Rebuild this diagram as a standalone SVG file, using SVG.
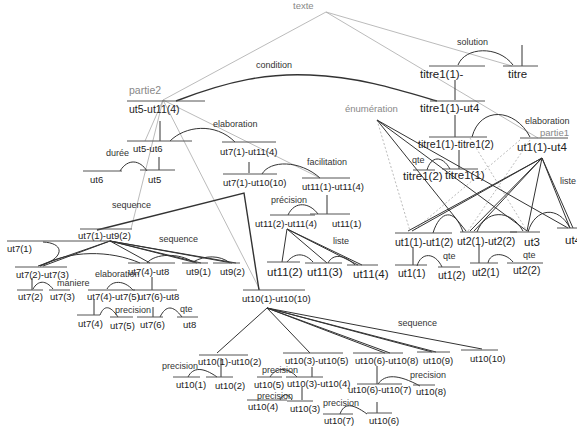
<svg xmlns="http://www.w3.org/2000/svg" width="577" height="432" viewBox="0 0 577 432">
<style>
text{font-family:"Liberation Sans",Arial,sans-serif;fill:#222}
.s{font-size:9.5px}.m{font-size:10.5px}.l{font-size:11.5px}
.g{fill:#888}
.r{font-size:9px;fill:#333}
.sp{stroke:#555;stroke-width:1}
.dk{stroke:#333;stroke-width:1;fill:none}
.th{stroke:#333;stroke-width:1.4;fill:none}
.gr{stroke:#aaa;stroke-width:0.8;fill:none}
.gd{stroke:#aaa;stroke-width:0.8;fill:none;stroke-dasharray:2 2}
.v{stroke:#333;stroke-width:1}
</style>
<rect width="577" height="432" fill="#fff"/>
<g id="connectors">
<line class="gr" x1="326" y1="12" x2="163" y2="100"/>
<line class="gr" x1="326" y1="12" x2="512" y2="66"/>
<line class="gr" x1="326" y1="12" x2="538" y2="138"/>
<line class="gr" x1="163" y1="100" x2="145" y2="141"/>
<line class="gr" x1="163" y1="100" x2="131" y2="229"/>
<line class="gr" x1="163" y1="100" x2="260" y2="290"/>
<line class="gr" x1="163" y1="100" x2="320" y2="178"/>
<line class="gd" x1="377" y1="120" x2="410" y2="231"/>
<line class="gd" x1="530" y1="140" x2="468" y2="231"/>
<line class="gd" x1="520" y1="140" x2="413" y2="231"/>
<line class="gd" x1="470" y1="138" x2="527" y2="231"/>
<line class="dk" x1="377" y1="120" x2="466" y2="231"/>
<line class="dk" x1="377" y1="120" x2="527" y2="231"/>
<line class="dk" x1="377" y1="120" x2="568" y2="228"/>
<line class="dk" x1="542" y1="158" x2="408" y2="231"/>
<line class="dk" x1="542" y1="158" x2="412" y2="231"/>
<line class="dk" x1="542" y1="158" x2="470" y2="231"/>
<line class="dk" x1="542" y1="158" x2="474" y2="231"/>
<line class="dk" x1="542" y1="158" x2="527" y2="231"/>
<line class="dk" x1="542" y1="158" x2="570" y2="228"/>
<line class="dk" x1="542" y1="158" x2="573" y2="228"/>
<path class="dk" d="M458,65 C465,47 498,45 513,65"/>
<path class="dk" d="M472,137 C480,106 515,108 530,137"/>
<path class="dk" d="M427,170 C431,156 442,155 450,169"/>
<path class="dk" d="M433,233 C440,210 455,208 463,232"/>
<path class="dk" d="M477,232 C485,210 510,208 523,231"/>
<path class="dk" d="M528,232 C535,208 558,205 570,228"/>
<path class="dk" d="M417,266 C421,252 435,252 442,267"/>
<path class="dk" d="M488,263 C490,252 505,252 513,262"/>
<path class="th" d="M176,101 C230,80 270,73 310,75 C360,77 400,90 437,101"/>
<path class="dk" d="M170,141 C185,126 215,122 235,142"/>
<path class="dk" d="M120,171 C128,158 140,160 147,171"/>
<path class="dk" d="M262,174 C270,160 300,160 320,178"/>
<path class="dk" d="M288,215 C295,200 310,203 318,214"/>
<line class="dk" x1="287" y1="229" x2="282" y2="262"/>
<line class="dk" x1="287" y1="229" x2="327" y2="263"/>
<line class="dk" x1="287" y1="229" x2="358" y2="265"/>
<line class="dk" x1="287" y1="229" x2="362" y2="265"/>
<path class="dk" d="M287,262 C295,252 305,253 313,262"/>
<path class="dk" d="M328,263 C333,253 345,255 355,265"/>
<polyline class="th" points="97,230 244,193 259,290"/>
<path class="dk" d="M43,242 C65,243 65,258 40,266"/>
<line class="dk" x1="110" y1="241" x2="38" y2="266"/>
<line class="dk" x1="110" y1="241" x2="43" y2="266"/>
<line class="dk" x1="110" y1="241" x2="150" y2="263"/>
<line class="dk" x1="110" y1="241" x2="197" y2="263"/>
<line class="dk" x1="110" y1="241" x2="201" y2="263"/>
<line class="dk" x1="110" y1="241" x2="232" y2="263"/>
<line class="dk" x1="110" y1="241" x2="236" y2="263"/>
<path class="dk" d="M40,266 C70,250 110,250 140,263"/>
<path class="dk" d="M147,263 C155,253 180,253 193,262"/>
<path class="dk" d="M193,262 C205,255 220,255 230,263"/>
<path class="dk" d="M33,289 C38,280 46,280 53,289"/>
<path class="dk" d="M107,289 C112,280 124,280 133,290"/>
<path class="dk" d="M100,315 C104,305 110,305 118,317"/>
<path class="dk" d="M160,317 C166,305 173,305 182,317"/>
<line class="dk" x1="267" y1="308" x2="217" y2="353"/>
<line class="dk" x1="267" y1="308" x2="310" y2="353"/>
<line class="dk" x1="267" y1="308" x2="385" y2="353"/>
<line class="dk" x1="267" y1="308" x2="390" y2="353"/>
<line class="dk" x1="267" y1="308" x2="432" y2="352"/>
<line class="dk" x1="267" y1="308" x2="436" y2="352"/>
<line class="dk" x1="267" y1="308" x2="482" y2="349"/>
<path class="dk" d="M188,377 C193,367 203,367 217,377"/>
<path class="dk" d="M270,377 C276,367 288,367 297,377"/>
<path class="dk" d="M280,400 C283,393 288,393 292,400"/>
<path class="dk" d="M378,384 C385,374 398,374 420,386"/>
<path class="dk" d="M340,414 C344,403 352,403 367,414"/>
<line class="v" x1="522" y1="45" x2="522" y2="66"/>
<line class="v" x1="455" y1="80" x2="455" y2="100"/>
<line class="v" x1="455" y1="115" x2="455" y2="137"/>
<line class="v" x1="459" y1="150" x2="459" y2="169"/>
<line class="v" x1="160" y1="121" x2="160" y2="141"/>
<line class="v" x1="159" y1="157" x2="159" y2="170"/>
<line class="v" x1="249" y1="162" x2="249" y2="173"/>
<line class="v" x1="327" y1="195" x2="327" y2="214"/>
<line class="v" x1="413" y1="247" x2="413" y2="265"/>
<line class="v" x1="479" y1="245" x2="479" y2="263"/>
<line class="v" x1="32" y1="278" x2="32" y2="290"/>
<line class="v" x1="152" y1="277" x2="152" y2="290"/>
<line class="v" x1="94" y1="300" x2="94" y2="315"/>
<line class="v" x1="153" y1="307" x2="153" y2="317"/>
<line class="v" x1="221" y1="358" x2="221" y2="377"/>
<line class="v" x1="312" y1="367" x2="312" y2="377"/>
<line class="v" x1="302" y1="387" x2="302" y2="400"/>
<line class="v" x1="377" y1="366" x2="377" y2="384"/>
<line class="v" x1="377" y1="402" x2="377" y2="413"/>
<text class="r" x="457" y="45">solution</text>
<text class="r" x="525" y="124">elaboration</text>
<text class="s g" x="345" y="112">énumération</text>
<text class="r" x="412" y="163">qte</text>
<text class="r" x="560" y="184">liste</text>
<text class="r" x="443" y="259">qte</text>
<text class="r" x="523" y="258">qte</text>
<text class="r" x="256" y="68">condition</text>
<text class="r" x="213" y="127">elaboration</text>
<text class="r" x="106" y="156">durée</text>
<text class="r" x="307" y="165">facilitation</text>
<text class="r" x="271" y="203">précision</text>
<text class="r" x="333" y="244">liste</text>
<text class="r" x="112" y="208">sequence</text>
<text class="r" x="159" y="242">sequence</text>
<text class="r" x="57" y="286">maniere</text>
<text class="r" x="95" y="277">elaboration</text>
<text class="r" x="115" y="313">precision</text>
<text class="r" x="180" y="312">qte</text>
<text class="r" x="398" y="326">sequence</text>
<text class="r" x="162" y="369">precision</text>
<text class="r" x="262" y="373">precision</text>
<text class="r" x="257" y="399">precision</text>
<text class="r" x="410" y="378">precision</text>
<text class="r" x="323" y="406">precision</text>
</g>
<g id="texte"><text class="s g" x="293" y="9">texte</text></g>
<g id="partie2"><line class="sp" x1="127" y1="101" x2="205" y2="101"/><text class="m g" x="129" y="94">partie2</text><text class="m" x="129" y="113">ut5-ut11(4)</text></g>
<g id="n-titre1-1-"><line class="sp" x1="429" y1="66" x2="485" y2="66"/><text class="l" x="420" y="78">titre1(1)-</text></g>
<g id="n-titre"><line class="sp" x1="503" y1="66" x2="538" y2="66"/><text class="l" x="508" y="78">titre</text></g>
<g id="n-titre1-ut4"><line class="sp" x1="430" y1="101" x2="485" y2="101"/><text class="l" x="420" y="112">titre1(1)-ut4</text></g>
<g id="n-titre1-titre2"><line class="sp" x1="429" y1="137" x2="487" y2="137"/><text class="m" x="418" y="148">titre1(1)-titre1(2)</text></g>
<g id="partie1"><line class="sp" x1="520" y1="138" x2="568" y2="138"/><text class="s g" x="540" y="136">partie1</text><text class="l" x="517" y="151">ut1(1)-ut4</text></g>
<g id="n-titre1-2"><line class="sp" x1="413" y1="170" x2="435" y2="170"/><text class="l" x="403" y="180">titre1(2)</text></g>
<g id="n-titre1-1"><line class="sp" x1="442" y1="169" x2="478" y2="169"/><text class="l" x="445" y="179">titre1(1)</text></g>
<g id="n-ut1-12"><line class="sp" x1="395" y1="233" x2="452" y2="233"/><text class="m" x="395" y="246">ut1(1)-ut1(2)</text></g>
<g id="n-ut2-12"><line class="sp" x1="460" y1="232" x2="517" y2="232"/><text class="m" x="457" y="245">ut2(1)-ut2(2)</text></g>
<g id="n-ut3"><line class="sp" x1="510" y1="232" x2="540" y2="232"/><text class="l" x="524" y="246">ut3</text></g>
<g id="n-ut4"><line class="sp" x1="557" y1="228" x2="577" y2="228"/><text class="l" x="565" y="244">ut4</text></g>
<g id="n-ut1-1"><line class="sp" x1="395" y1="265" x2="427" y2="265"/><text class="m" x="398" y="277">ut1(1)</text></g>
<g id="n-ut1-2"><line class="sp" x1="438" y1="267" x2="460" y2="267"/><text class="m" x="438" y="279">ut1(2)</text></g>
<g id="n-ut2-1"><line class="sp" x1="470" y1="263" x2="498" y2="263"/><text class="m" x="472" y="276">ut2(1)</text></g>
<g id="n-ut2-2"><line class="sp" x1="507" y1="263" x2="543" y2="263"/><text class="m" x="513" y="274">ut2(2)</text></g>
<g id="n-ut5-ut6"><line class="sp" x1="127" y1="141" x2="192" y2="141"/><text class="s" x="133" y="152">ut5-ut6</text></g>
<g id="n-ut7-ut11"><line class="sp" x1="222" y1="142" x2="276" y2="142"/><text class="s" x="220" y="155">ut7(1)-ut11(4)</text></g>
<g id="n-ut6"><line class="sp" x1="83" y1="171" x2="122" y2="171"/><text class="s" x="90" y="183">ut6</text></g>
<g id="n-ut5"><line class="sp" x1="140" y1="170" x2="175" y2="170"/><text class="s" x="148" y="183">ut5</text></g>
<g id="n-ut7-ut10"><line class="sp" x1="223" y1="174" x2="277" y2="174"/><text class="s" x="223" y="186">ut7(1)-ut10(10)</text></g>
<g id="n-ut11-14"><line class="sp" x1="302" y1="178" x2="350" y2="178"/><text class="s" x="302" y="190">ut11(1)-ut11(4)</text></g>
<g id="n-ut11-24"><line class="sp" x1="270" y1="215" x2="315" y2="215"/><text class="s" x="255" y="227">ut11(2)-ut11(4)</text></g>
<g id="n-ut11-1"><line class="sp" x1="310" y1="214" x2="350" y2="214"/><text class="s" x="332" y="227">ut11(1)</text></g>
<g id="n-ut11-2"><line class="sp" x1="267" y1="262" x2="300" y2="262"/><text class="l" x="267" y="276">ut11(2)</text></g>
<g id="n-ut11-3"><line class="sp" x1="305" y1="263" x2="342" y2="263"/><text class="l" x="307" y="276">ut11(3)</text></g>
<g id="n-ut11-4"><line class="sp" x1="347" y1="265" x2="378" y2="265"/><text class="l" x="353" y="278">ut11(4)</text></g>
<g id="n-ut7-ut9"><line class="sp" x1="80" y1="229" x2="132" y2="229"/><text class="s" x="78" y="239">ut7(1)-ut9(2)</text></g>
<g id="n-ut7-1"><line class="sp" x1="7" y1="241" x2="110" y2="241"/><text class="s" x="7" y="252">ut7(1)</text></g>
<g id="n-ut7-23"><line class="sp" x1="15" y1="267" x2="67" y2="267"/><text class="s" x="16" y="278">ut7(2)-ut7(3)</text></g>
<g id="n-ut7-4-ut8"><line class="sp" x1="128" y1="263" x2="175" y2="263"/><text class="s" x="128" y="275">ut7(4)-ut8</text></g>
<g id="n-ut9-1"><line class="sp" x1="182" y1="263" x2="208" y2="263"/><text class="s" x="186" y="275">ut9(1)</text></g>
<g id="n-ut9-2"><line class="sp" x1="213" y1="263" x2="240" y2="263"/><text class="s" x="220" y="275">ut9(2)</text></g>
<g id="n-ut7-2"><line class="sp" x1="17" y1="290" x2="43" y2="290"/><text class="s" x="18" y="300">ut7(2)</text></g>
<g id="n-ut7-3"><line class="sp" x1="49" y1="290" x2="70" y2="290"/><text class="s" x="50" y="300">ut7(3)</text></g>
<g id="n-ut7-45"><line class="sp" x1="88" y1="290" x2="135" y2="290"/><text class="s" x="87" y="300">ut7(4)-ut7(5)</text></g>
<g id="n-ut7-6-ut8"><line class="sp" x1="133" y1="290" x2="177" y2="290"/><text class="s" x="138" y="300">ut7(6)-ut8</text></g>
<g id="n-ut7-4"><line class="sp" x1="77" y1="315" x2="100" y2="315"/><text class="s" x="78" y="327">ut7(4)</text></g>
<g id="n-ut7-5"><line class="sp" x1="110" y1="317" x2="133" y2="317"/><text class="s" x="110" y="329">ut7(5)</text></g>
<g id="n-ut7-6"><line class="sp" x1="137" y1="317" x2="163" y2="317"/><text class="s" x="140" y="328">ut7(6)</text></g>
<g id="n-ut8"><line class="sp" x1="177" y1="317" x2="198" y2="317"/><text class="s" x="183" y="328">ut8</text></g>
<g id="n-ut10-all"><line class="sp" x1="243" y1="290" x2="305" y2="290"/><text class="s" x="242" y="302">ut10(1)-ut10(10)</text></g>
<g id="n-ut10-12"><line class="sp" x1="199" y1="355" x2="248" y2="355"/><text class="s" x="198" y="365">ut10(1)-ut10(2)</text></g>
<g id="n-ut10-35"><line class="sp" x1="283" y1="353" x2="343" y2="353"/><text class="s" x="285" y="364">ut10(3)-ut10(5)</text></g>
<g id="n-ut10-68"><line class="sp" x1="353" y1="353" x2="403" y2="353"/><text class="s" x="355" y="364">ut10(6)-ut10(8)</text></g>
<g id="n-ut10-9"><line class="sp" x1="417" y1="352" x2="450" y2="352"/><text class="s" x="423" y="364">ut10(9)</text></g>
<g id="n-ut10-10"><line class="sp" x1="461" y1="350" x2="498" y2="350"/><text class="s" x="470" y="362">ut10(10)</text></g>
<g id="n-ut10-1"><line class="sp" x1="173" y1="377" x2="200" y2="377"/><text class="s" x="176" y="388">ut10(1)</text></g>
<g id="n-ut10-2"><line class="sp" x1="206" y1="377" x2="233" y2="377"/><text class="s" x="215" y="389">ut10(2)</text></g>
<g id="n-ut10-5"><line class="sp" x1="257" y1="377" x2="282" y2="377"/><text class="s" x="254" y="388">ut10(5)</text></g>
<g id="n-ut10-34"><line class="sp" x1="286" y1="377" x2="323" y2="377"/><text class="s" x="287" y="387">ut10(3)-ut10(4)</text></g>
<g id="n-ut10-4"><line class="sp" x1="247" y1="400" x2="287" y2="400"/><text class="s" x="248" y="410">ut10(4)</text></g>
<g id="n-ut10-3"><line class="sp" x1="287" y1="401" x2="313" y2="401"/><text class="s" x="290" y="412">ut10(3)</text></g>
<g id="n-ut10-67"><line class="sp" x1="357" y1="384" x2="402" y2="384"/><text class="s" x="348" y="393">ut10(6)-ut10(7)</text></g>
<g id="n-ut10-8"><line class="sp" x1="413" y1="385" x2="435" y2="385"/><text class="s" x="416" y="395">ut10(8)</text></g>
<g id="n-ut10-7"><line class="sp" x1="323" y1="414" x2="353" y2="414"/><text class="s" x="324" y="424">ut10(7)</text></g>
<g id="n-ut10-6"><line class="sp" x1="367" y1="413" x2="392" y2="413"/><text class="s" x="369" y="424">ut10(6)</text></g>
</svg>
